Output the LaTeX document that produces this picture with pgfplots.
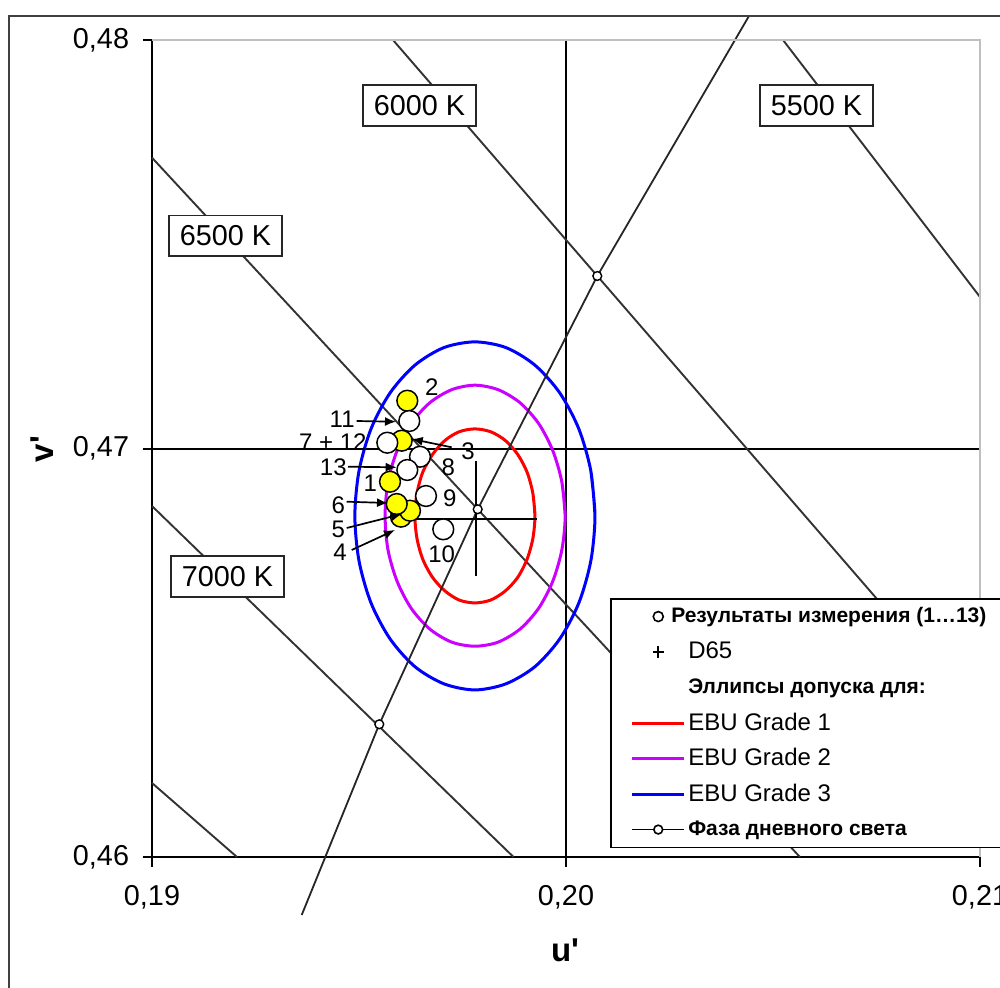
\documentclass[border=0pt]{standalone}
\usepackage{pgfplots}
\pgfplotsset{compat=1.18}
\usepackage{fontspec}
\setmainfont{Liberation Sans}[Ligatures=TeXOff]
\usetikzlibrary{arrows.meta}
\definecolor{ebumag}{RGB}{204,0,255}
\definecolor{ptyellow}{RGB}{255,255,0}

\begin{document}
\begin{tikzpicture}
\begin{axis}[
  scale only axis, width=414pt, height=408.5pt,
  xmin=0.19, xmax=0.21, ymin=0.46, ymax=0.48,
  clip=false,
  axis x line*=bottom, axis y line*=left,
  axis line style={black, line width=1pt},
  xtick={0.19,0.20,0.21}, ytick={0.46,0.47,0.48},
  tick align=outside, major tick length=4.75pt,
  tick style={black, line width=1pt},
  /pgf/number format/.cd, fixed, fixed zerofill, precision=2, use comma, assume math mode=true,
  /pgfplots/.cd,
  ticklabel style={font=\fontsize{14.4}{16}\selectfont},
  xticklabel style={yshift=-5.7pt},
  yticklabel style={xshift=-3.2pt},
  scaled ticks=false,
  xlabel={u'}, ylabel={v'},
  xlabel style={at={(axis description cs:0.4988,-0.1140)}, anchor=center, font=\bfseries\fontsize{16.5}{18}\selectfont},
  ylabel style={at={(axis description cs:-0.1330,0.4994)}, anchor=center, font=\bfseries\fontsize{16.5}{18}\selectfont},
  legend style={
    at={(axis description cs:0.5531,0.3170)}, anchor=north west,
    draw=black, line width=0.8pt, fill=white,
    inner xsep=10pt, inner ysep=0pt, row sep=0pt,
    nodes={inner xsep=1.25pt, inner ysep=0pt, minimum height=17.75pt, font=\fontsize{12}{14}\selectfont},
  },
  legend cell align=left,
  legend image code/.code={\draw[mark repeat=2, mark phase=2, #1] plot coordinates {(0pt,0pt) (13pt,0pt) (26pt,0pt)};},
]
% grid lines
\draw[black, line width=1pt] (axis cs:0.20,0.46) -- (axis cs:0.20,0.48);
\draw[black, line width=1pt] (axis cs:0.19,0.47) -- (axis cs:0.21,0.47);
% isotherms
\addplot[forget plot, black!80, line width=0.95pt] coordinates {(0.19,0.461812) (0.192053,0.46)};
\addplot[forget plot, black!80, line width=0.95pt] coordinates {(0.19,0.468592) (0.198732,0.46)};
\addplot[forget plot, black!80, line width=0.95pt] coordinates {(0.19,0.477119) (0.20565,0.46)};
\addplot[forget plot, black!80, line width=0.95pt] coordinates {(0.195821,0.48) (0.21,0.463403)};
\addplot[forget plot, black!80, line width=0.95pt] coordinates {(0.205242,0.48) (0.21,0.473709)};
% ellipses
\addplot[forget plot, red, line width=1.5pt, smooth] coordinates {
(0.19925,0.46835) (0.19920,0.46890) (0.19906,0.46942) (0.19883,0.46986) (0.19853,0.47020) (0.19818,0.47041)
(0.19780,0.47048) (0.19742,0.47041) (0.19708,0.47020) (0.19678,0.46986) (0.19654,0.46942) (0.19640,0.46890)
(0.19635,0.46835) (0.19640,0.46780) (0.19654,0.46729) (0.19678,0.46684) (0.19708,0.46651) (0.19742,0.46629)
(0.19780,0.46622) (0.19818,0.46629) (0.19853,0.46651) (0.19883,0.46684) (0.19906,0.46729) (0.19920,0.46780)
(0.19925,0.46835) (0.19920,0.46890)};
\addplot[forget plot, ebumag, line width=1.5pt, smooth] coordinates {
(0.19998,0.46835) (0.19990,0.46918) (0.19968,0.46995) (0.19934,0.47061) (0.19889,0.47112) (0.19836,0.47144)
(0.19780,0.47155) (0.19724,0.47144) (0.19671,0.47112) (0.19626,0.47061) (0.19592,0.46995) (0.19570,0.46918)
(0.19563,0.46835) (0.19570,0.46752) (0.19592,0.46675) (0.19626,0.46609) (0.19671,0.46558) (0.19724,0.46526)
(0.19780,0.46516) (0.19836,0.46526) (0.19889,0.46558) (0.19934,0.46609) (0.19968,0.46675) (0.19990,0.46752)
(0.19998,0.46835) (0.19990,0.46918)};
\addplot[forget plot, blue, line width=1.5pt, smooth] coordinates {
(0.20070,0.46835) (0.20060,0.46945) (0.20031,0.47048) (0.19985,0.47136) (0.19925,0.47204) (0.19855,0.47247)
(0.19780,0.47261) (0.19705,0.47247) (0.19635,0.47204) (0.19575,0.47136) (0.19529,0.47048) (0.19500,0.46945)
(0.19490,0.46835) (0.19500,0.46725) (0.19529,0.46622) (0.19575,0.46534) (0.19635,0.46466) (0.19705,0.46424)
(0.19780,0.46409) (0.19855,0.46424) (0.19925,0.46466) (0.19985,0.46534) (0.20031,0.46622) (0.20060,0.46725)
(0.20070,0.46835) (0.20060,0.46945)};
% daylight locus
\addplot[forget plot, black!85, line width=0.9pt, mark=*, mark size=2.2pt, mark options={fill=white, draw=black, line width=0.7pt}, mark indices={2,3,4}] coordinates {
(0.193616,0.458580) (0.195490,0.463249) (0.197867,0.468512) (0.200756,0.474223) (0.204420,0.480588)};
% D65 cross
\addplot[forget plot, black, line width=0.9pt] coordinates {(0.196353,0.468274) (0.199300,0.468274)};
\addplot[forget plot, black, line width=0.9pt] coordinates {(0.197826,0.469694) (0.197826,0.466879)};
% measurement results
\addplot[forget plot, only marks, mark=*, mark size=5.2pt, mark options={fill=ptyellow, draw=black, line width=0.75pt}] coordinates {
(0.196167,0.471170) (0.196031,0.470191) (0.195749,0.469187) (0.196014,0.468331) (0.196232,0.468477) (0.195911,0.468641)};
\addplot[forget plot, only marks, mark=*, mark size=5.2pt, mark options={fill=white, draw=black, line width=0.75pt}] coordinates {
(0.196215,0.470673) (0.195684,0.470142) (0.196473,0.469799) (0.196167,0.469474) (0.196618,0.468837) (0.197036,0.468022)};
% CCT labels
\tikzset{cct/.style={draw=black!85, line width=0.8pt, fill=white, minimum width=56.5pt, minimum height=20.3pt, inner sep=0pt, font=\fontsize{14.4}{16}\selectfont}}
\node[cct] at (axis cs:0.196461,0.478397) {6000 K};
\node[cct] at (axis cs:0.206051,0.478397) {5500 K};
\node[cct] at (axis cs:0.191775,0.475209) {6500 K};
\node[cct] at (axis cs:0.191824,0.466867) {7000 K};
% plot area border (top, right)
\draw[black!25, line width=1pt] (rel axis cs:0,1) -- (rel axis cs:1,1) -- (rel axis cs:1,0);
\coordinate (ll) at (rel axis cs:0,0);
% legend
\addlegendimage{only marks, mark=o, mark size=2.5pt, black, line width=0.8pt}
\addlegendentry{\hspace*{-8.5pt}\bfseries\fontsize{10.5}{12}\selectfont Результаты измерения (1…13)\hspace*{12pt}}
\addlegendimage{only marks, mark=+, mark size=2.8pt, black, line width=0.8pt}
\addlegendentry{D65}
\addlegendimage{empty legend}
\addlegendentry{\bfseries\fontsize{10.5}{12}\selectfont Эллипсы допуска для:}
\addlegendimage{red, line width=1.5pt}
\addlegendentry{EBU Grade 1}
\addlegendimage{ebumag, line width=1.5pt}
\addlegendentry{EBU Grade 2}
\addlegendimage{blue, line width=1.5pt}
\addlegendentry{EBU Grade 3}
\addlegendimage{black, line width=0.8pt, mark=*, mark size=2.2pt, mark options={fill=white, draw=black}}
\addlegendentry{\bfseries\fontsize{10.5}{12}\selectfont Фаза дневного света}
\end{axis}
\begin{scope}[shift={(ll)}, xshift=-76pt, yshift=428.5pt, x=0.5pt, y=-0.5pt]
\pgfresetboundingbox
\useasboundingbox (0,0) rectangle (1000,987);
\draw[line width=1pt, black!75] (9.3,1100) -- (9.3,16) -- (1100,16);
\tikzset{lbl/.style={inner sep=0pt, font=\fontsize{12}{13}\selectfont}}
\node[lbl] at (431.7,386.7) {2};
\node[lbl, anchor=east] at (355,419) {11};
\node[lbl, anchor=east] at (367,442.5) {7 + 12};
\node[lbl] at (468,451.7) {3};
\node[lbl, anchor=east] at (347,467.3) {13};
\node[lbl] at (448.3,467.5) {8};
\node[lbl] at (370.3,483.3) {1};
\node[lbl] at (449.7,498.3) {9};
\node[lbl] at (338.3,505.5) {6};
\node[lbl] at (338.3,529) {5};
\node[lbl] at (340,552.5) {4};
\node[lbl] at (441.7,554) {10};
\tikzset{arr/.style={black, line width=0.85pt, -{Latex[length=5.5pt,width=4.5pt]}}}
\draw[arr] (356.7,421) -- (396,421.7);
\draw[arr] (451.7,447.3) -- (411.7,439);
\draw[arr] (348,466.7) -- (396.7,467.3);
\draw[arr] (346.7,501.7) -- (388,503);
\draw[arr] (346.7,528) -- (402,514);
\draw[arr] (351.7,550) -- (395,530);
\end{scope}
\end{tikzpicture}
\end{document}
